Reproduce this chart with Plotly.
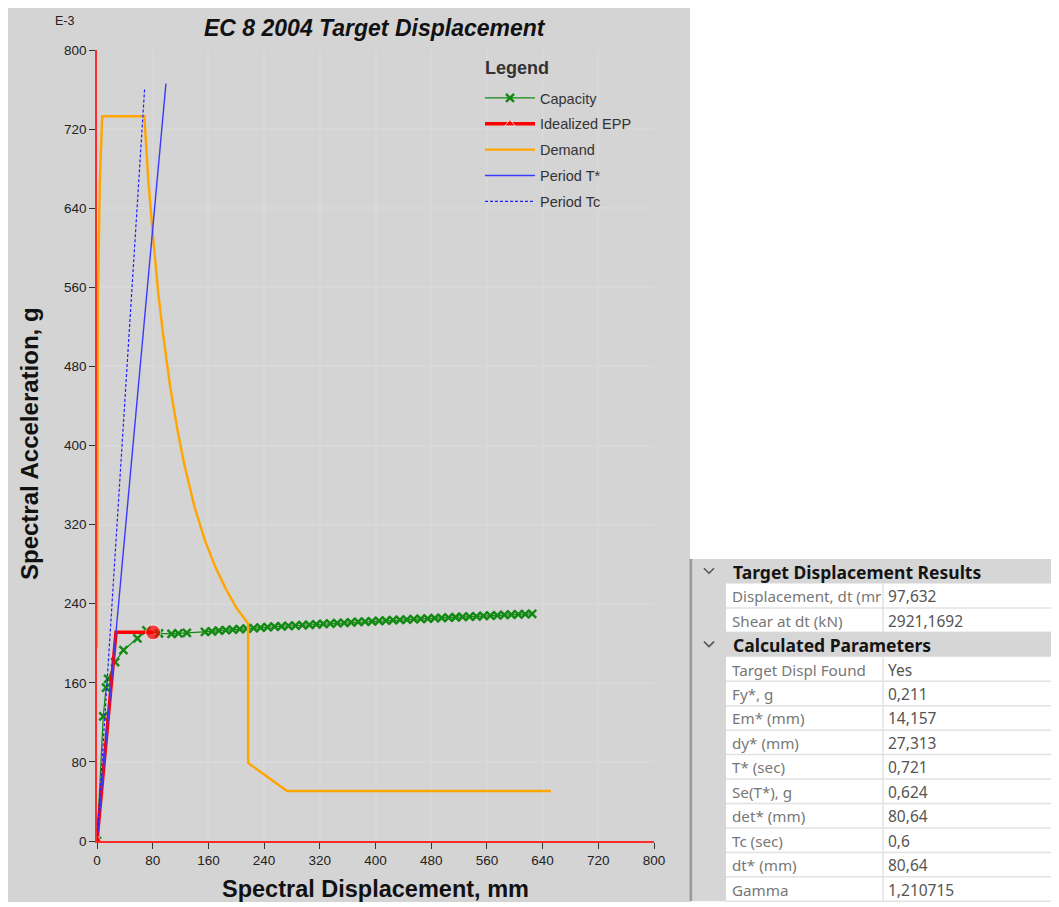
import plotly.graph_objects as go

# ---------------- data ----------------
cap_sd = [0, 9, 13, 16, 26, 38, 58, 71, 89, 107, 117, 129,
          155, 165, 175, 185, 195, 205, 215, 225, 235, 245, 255, 265, 275, 285,
          295, 305, 315, 325, 335, 345, 355, 365, 375, 385, 395, 405, 415, 425,
          435, 445, 455, 465, 475, 485, 495, 505, 515, 525, 535, 545, 555, 565,
          575, 585, 595, 605, 615, 625]
cap_sa = [0, 126, 155, 164, 181, 193, 205, 213, 210, 209.5, 210, 210.4,
          211.5, 212.1, 212.7, 213.3, 213.8, 214.3, 214.8, 215.3, 215.8, 216.2, 216.7, 217.1, 217.5, 217.9,
          218.3, 218.7, 219.1, 219.5, 219.9, 220.3, 220.7, 221.1, 221.5, 221.9, 222.2, 222.6, 222.9, 223.3,
          223.6, 224.0, 224.3, 224.7, 225.0, 225.3, 225.7, 226.0, 226.3, 226.7, 227.0, 227.3, 227.6, 228.0,
          228.3, 228.6, 228.9, 229.2, 229.5, 229.8]

epp_sd = [0, 27.313, 80.64]
epp_sa = [0, 211, 211]

dem_sd = [0, 0.5, 1.5, 4, 7.5, 68, 74, 81, 88, 95, 105, 115, 125, 140, 155, 170,
          185, 200, 217, 217, 273, 652]
dem_sa = [195, 370, 550, 665, 733, 733, 665, 607, 554, 512, 460, 418, 382, 338, 304, 277,
          255, 236, 220, 79, 50.5, 50.5]

tstar_sd = [0, 99]
tstar_sa = [0, 766]
tc_sd = [0, 68.5]
tc_sa = [0, 762]

x_ticks = [0, 80, 160, 240, 320, 400, 480, 560, 640, 720, 800]
y_ticks = [0, 80, 160, 240, 320, 400, 480, 560, 640, 720, 800]

section_titles = ["Target Displacement Results", "Calculated Parameters"]
section1_labels = ["Displacement, dt (mr", "Shear at dt (kN)"]
section1_values = ["97,632", "2921,1692"]
section2_labels = ["Target Displ Found", "Fy*, g", "Em* (mm)", "dy* (mm)", "T* (sec)",
                   "Se(T*), g", "det* (mm)", "Tc (sec)", "dt* (mm)", "Gamma"]
section2_values = ["Yes", "0,211", "14,157", "27,313", "0,721", "0,624", "80,64",
                   "0,6", "80,64", "1,210715"]

# ---------------- layout helpers (page pixel -> paper) ----------------
OFF = 8                      # page body margin
W, H = 1059 - OFF, 907 - OFF
PL, PR, PT, PB = 97, 654, 50, 841   # plot area in page pixels


def px(x):
    return (x - PL) / (PR - PL)


def py(y):
    return (PB - y) / (PB - PT)


FONT = "Liberation Sans, Arial, sans-serif"
TFONT = "Noto Sans, Open Sans, sans-serif"

fig = go.Figure()

fig.add_trace(go.Scatter(
    x=cap_sd, y=cap_sa, name="Capacity", mode="lines+markers", legendgroup="a",
    line=dict(color="#138a13", width=1.2),
    marker=dict(symbol="x-thin", size=8, color="#138a13",
                line=dict(color="#138a13", width=2.5)),
))
fig.add_trace(go.Scatter(
    x=epp_sd, y=epp_sa, name="Idealized EPP", mode="lines+markers", legendgroup="b",
    line=dict(color="#ff0000", width=3.5),
    marker=dict(symbol=["triangle-up", "circle", "circle"], size=[12, 0, 15], color="#ff0000"),
))
fig.add_trace(go.Scatter(
    x=dem_sd, y=dem_sa, name="Demand", mode="lines", legendgroup="c",
    line=dict(color="#ffa500", width=2.4),
))
fig.add_trace(go.Scatter(
    x=tstar_sd, y=tstar_sa, name="Period T*", mode="lines", legendgroup="d",
    line=dict(color="#3a3aff", width=1.4),
))
fig.add_trace(go.Scatter(
    x=tc_sd, y=tc_sa, name="Period Tc", mode="lines", legendgroup="e",
    line=dict(color="#2020ff", width=1.2, dash="3px,2px"),
))

shapes = []
annotations = []

# gray chart panel
shapes.append(dict(type="rect", xref="paper", yref="paper", layer="below",
                   x0=px(8), x1=px(690), y0=py(902), y1=py(8),
                   fillcolor="#d4d4d4", line=dict(width=0)))

# ---- property table ----
ROW_H = 24.45
TOP = 559
TBL_L, STRIP_R, DIV_X, TBL_R = 693, 726, 883, 1059
rows = []
rows.append(("header", section_titles[0], ""))
for lab, val in zip(section1_labels, section1_values):
    rows.append(("row", lab, val))
rows.append(("header", section_titles[1], ""))
for lab, val in zip(section2_labels, section2_values):
    rows.append(("row", lab, val))

bottom = TOP + ROW_H * len(rows)
shapes.append(dict(type="rect", xref="paper", yref="paper", layer="above",
                   x0=px(TBL_L), x1=px(STRIP_R), y0=py(bottom), y1=py(TOP),
                   fillcolor="#d6d6d6", line=dict(width=0)))
shapes.append(dict(type="rect", xref="paper", yref="paper", layer="above",
                   x0=px(689.5), x1=px(692.5), y0=py(bottom), y1=py(TOP),
                   fillcolor="#9a9a9a", line=dict(width=0)))

for i, (kind, lab, val) in enumerate(rows):
    y0 = TOP + i * ROW_H
    y1 = y0 + ROW_H
    yc = (y0 + y1) / 2
    if kind == "header":
        shapes.append(dict(type="rect", xref="paper", yref="paper", layer="above",
                           x0=px(TBL_L), x1=px(TBL_R), y0=py(y1), y1=py(y0),
                           fillcolor="#d6d6d6", line=dict(width=0)))
        shapes.append(dict(type="path", xref="paper", yref="paper", layer="above",
                           path=f"M {px(704)},{py(yc - 3)} L {px(709)},{py(yc + 2)} L {px(714)},{py(yc - 3)}",
                           line=dict(color="#555555", width=1.6)))
        annotations.append(dict(xref="paper", yref="paper", x=px(731), y=py(yc + 0.5),
                                text=f"<b>{lab}</b>", showarrow=False, xanchor="left",
                                yanchor="middle", font=dict(family=TFONT, size=17.5, color="#141414")))
    else:
        shapes.append(dict(type="line", xref="paper", yref="paper", layer="above",
                           x0=px(STRIP_R), x1=px(TBL_R), y0=py(y1), y1=py(y1),
                           line=dict(color="#e2e2e2", width=1.5)))
        shapes.append(dict(type="line", xref="paper", yref="paper", layer="above",
                           x0=px(DIV_X), x1=px(DIV_X), y0=py(y1), y1=py(y0),
                           line=dict(color="#e2e2e2", width=1.5)))
        annotations.append(dict(xref="paper", yref="paper", x=px(730), y=py(yc + 0.5),
                                text=lab, showarrow=False, xanchor="left", yanchor="middle",
                                font=dict(family=TFONT, size=15.2, color="#777777")))
        annotations.append(dict(xref="paper", yref="paper", x=px(886), y=py(yc + 0.5),
                                text=val, showarrow=False, xanchor="left", yanchor="middle",
                                font=dict(family=TFONT, size=15.5, color="#555555")))

# title, unit, axis titles
annotations.append(dict(xref="paper", yref="paper", x=px(375), y=py(28),
                        text="<b><i>EC 8 2004 Target Displacement</i></b>", showarrow=False,
                        xanchor="center", yanchor="middle",
                        font=dict(family=FONT, size=23, color="#111111")))
annotations.append(dict(xref="paper", yref="paper", x=px(65), y=py(21),
                        text="E-3", showarrow=False, xanchor="center", yanchor="middle",
                        font=dict(family=FONT, size=12.5, color="#222222")))
annotations.append(dict(xref="paper", yref="paper", x=px(375), y=py(889),
                        text="<b>Spectral Displacement, mm</b>", showarrow=False,
                        xanchor="center", yanchor="middle",
                        font=dict(family=FONT, size=23.5, color="#111111")))
annotations.append(dict(xref="paper", yref="paper", x=px(29), y=py(444),
                        text="<b>Spectral Acceleration, g</b>", showarrow=False, textangle=-90,
                        xanchor="center", yanchor="middle",
                        font=dict(family=FONT, size=24, color="#111111")))
annotations.append(dict(xref="paper", yref="paper", x=px(483), y=py(68),
                        text="<b>Legend</b>", showarrow=False,
                        xanchor="left", yanchor="middle",
                        font=dict(family=FONT, size=18, color="#333333")))

axis_common = dict(
    range=[0, 800], showgrid=True, gridcolor="#d8d8d8", gridwidth=1.6,
    zeroline=False, showline=True, linecolor="#ff2a2a", linewidth=1.6,
    ticks="outside", ticklen=6, tickcolor="#333333", tickwidth=1,
    tickfont=dict(family=FONT, size=13.5, color="#222222"), fixedrange=True,
)

fig.update_layout(
    width=W, height=H,
    margin=dict(l=PL - OFF, r=W - (PR - OFF), t=PT - OFF, b=H - (PB - OFF), pad=0),
    paper_bgcolor="white", plot_bgcolor="white",
    xaxis=dict(tickvals=x_ticks, **axis_common),
    yaxis=dict(tickvals=y_ticks, **axis_common),
    showlegend=True,
    legend=dict(x=px(480), y=py(82), xanchor="left", yanchor="top",
                bgcolor="rgba(0,0,0,0)", borderwidth=0, itemwidth=50,
                font=dict(family=FONT, size=14.5, color="#333333"),
                tracegroupgap=4, traceorder="grouped"),
    shapes=shapes, annotations=annotations,
)

fig.write_html("out.html")
